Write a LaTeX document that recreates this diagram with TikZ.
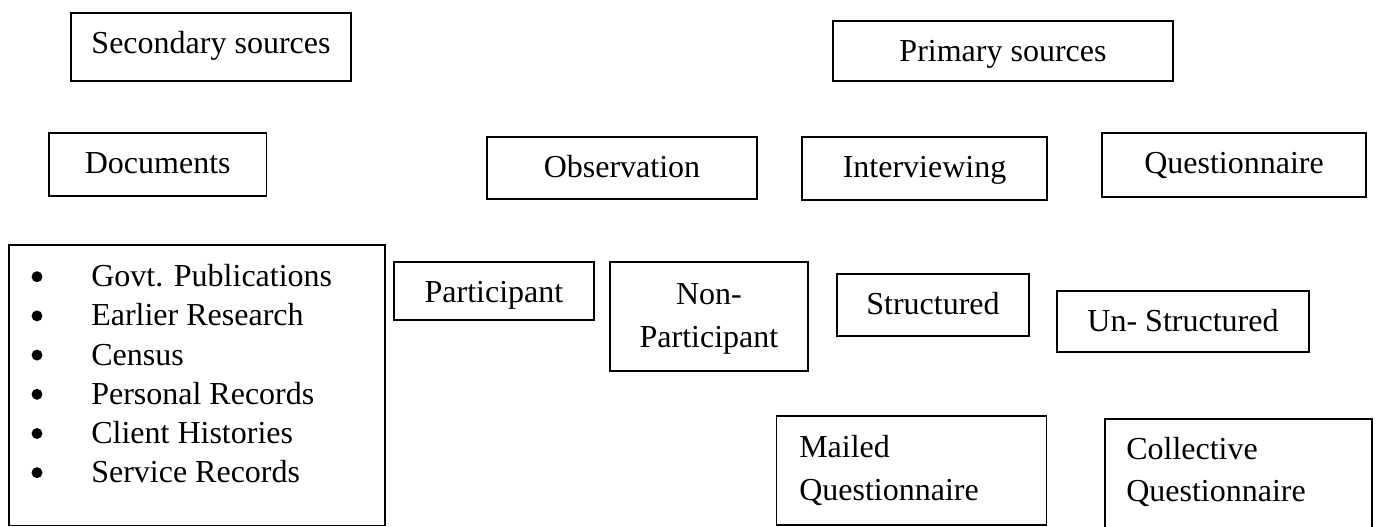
\documentclass[tikz,border=0pt]{standalone}
\usepackage{fontspec}
\setmainfont{Liberation Serif}
\begin{document}
\begin{tikzpicture}[x=0.75pt,y=-0.75pt,
  box/.style={draw, line width=1.3pt, inner sep=0pt, text depth=5.25pt, font=\fontsize{24}{29.4}\selectfont},
  txt/.style={inner sep=0pt, font=\fontsize{24}{29.4}\selectfont},
  bullet/.style={fill=black}]
\clip (0,0) rectangle (1381,527);

% top row
\node[box, minimum width=210pt, minimum height=51pt, text height=15pt] (sec) at (211,47) {Secondary sources};
\node[box, minimum width=255pt, minimum height=45pt, text height=21pt] (prim) at (1003,51) {Primary sources};

% second row
\node[box, minimum width=163.1pt, minimum height=47.25pt, text height=18.75pt] (doc) at (157.75,164.5) {Documents};
\node[box, minimum width=202.5pt, minimum height=46.5pt, text height=19.5pt] (obs) at (622,168) {Observation};
\node[box, minimum width=183.75pt, minimum height=47.25pt, text height=18.75pt] (int) at (924.5,168.5) {Interviewing};
\node[box, minimum width=198pt, minimum height=48pt, text height=18pt] (que) at (1234,165) {Questionnaire};

% third row
\node[box, minimum width=150pt, minimum height=43.5pt, text height=22.5pt] (part) at (494,291) {Participant};
\node[box, minimum width=148.5pt, minimum height=81.75pt] (nonp) at (709,316.5) {};
\node[txt, anchor=base] (nonpa) at (709,305) {Non-};
\node[txt, anchor=base] (nonpb) at (709,347) {Participant};
\node[box, minimum width=144pt, minimum height=46.5pt, text height=19.5pt] (str) at (933,305) {Structured};
\node[box, minimum width=189pt, minimum height=45.75pt, text height=20.25pt] (uns) at (1183,321.5) {Un- Structured};

% list box
\node[box, minimum width=282pt, minimum height=210.4pt] (list) at (197,385.25) {};
\foreach \t [count=\i] in {Govt. Publications, Earlier Research, Census, Personal Records, Client Histories, Service Records}{
  \node[txt, anchor=base west] (item\i) at (91,{286.7+39.2*(\i-1)}) {\t};
  \fill[bullet] (37,{276.7+39.2*(\i-1)}) circle[radius=4.1pt];
}

% bottom row
\node[box, minimum width=202.5pt, minimum height=81.75pt] (mail) at (911.5,470.5) {};
\node[txt, anchor=base west] (maila) at (799,457) {Mailed};
\node[txt, anchor=base west] (mailb) at (799,500) {Questionnaire};
\node[box, minimum width=200.25pt, minimum height=105pt] (coll) at (1238.5,489) {};
\node[txt, anchor=base west] (colla) at (1126,459) {Collective};
\node[txt, anchor=base west] (collb) at (1126,501) {Questionnaire};
\end{tikzpicture}
\end{document}
